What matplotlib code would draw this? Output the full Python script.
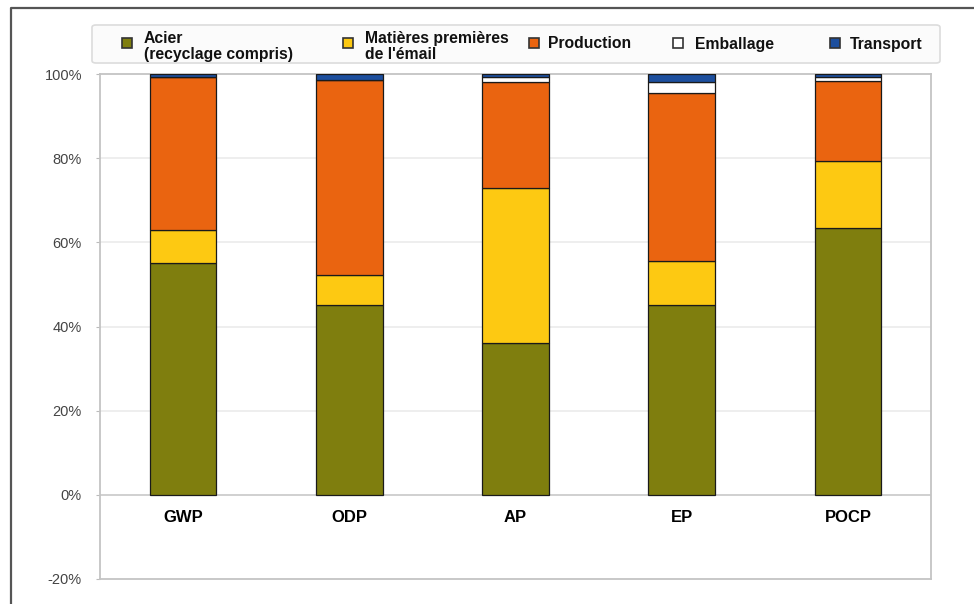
import numpy as np
import matplotlib
matplotlib.use("Agg")
import matplotlib.pyplot as plt
from matplotlib.patches import FancyBboxPatch
from matplotlib.lines import Line2D

plt.rcParams['font.family'] = ['Liberation Sans', 'DejaVu Sans']

# Share of each life-cycle stage per impact category (%)
categories = ['GWP', 'ODP', 'AP', 'EP', 'POCP']
stages = ['Acier\n(recyclage compris)', "Matières premières\nde l'émail",
          'Production', 'Emballage', 'Transport']
acier = [55.0, 45.0, 36.0, 45.0, 63.4]
matieres = [7.9, 7.3, 37.0, 10.6, 15.9]
production = [36.3, 46.2, 25.2, 40.0, 19.1]
emballage = [0.1, 0.1, 1.0, 2.6, 1.0]
transport = [0.7, 1.4, 0.8, 1.8, 0.6]
yticks = [-20, 0, 20, 40, 60, 80, 100]

series = [acier, matieres, production, emballage, transport]
colors = ['#7f7e0e', '#fdc912', '#ea6410', '#ffffff', '#1d4f9e']

W, H = 974, 604
fig = plt.figure(figsize=(W / 100, H / 100), dpi=100)
ax = fig.add_axes([100 / W, 1 - 579 / H, 831 / W, 505 / H])

x = np.arange(len(categories))
bottom = np.zeros(len(categories))
for vals, col in zip(series, colors):
    vals = np.array(vals)
    ax.bar(x, vals, width=0.4, bottom=bottom, color=col,
           edgecolor='#1a1a1a', linewidth=0.9, zorder=3)
    bottom += vals

ax.set_xlim(-0.5, len(categories) - 0.5)
ax.set_ylim(-20, 100)
ax.set_yticks(yticks)
ax.set_yticklabels([f'{v}%' for v in yticks], fontsize=10.5, color='#444444')
ax.tick_params(axis='y', length=3, color='#bbbbbb', pad=10)
ax.set_xticks([])

# light horizontal grid, zero line a bit stronger
for v in yticks[1:-1]:
    ax.axhline(v, color='#c8c8c8' if v == 0 else '#ebebeb', lw=1.2, zorder=1)
for s in ax.spines.values():
    s.set_color('#c4c4c4')
    s.set_linewidth(1.3)

# category names sit just under the 0% line
for xi, name in zip(x, categories):
    ax.annotate(name, (xi, 0), xytext=(0, -11), textcoords='offset points',
                ha='center', va='top', fontsize=12, fontweight='bold')

# legend box across the top
fig.patches.append(FancyBboxPatch((92 / W, 1 - 63 / H), 848 / W, 38 / H,
                                  boxstyle='round,pad=0,rounding_size=0.004',
                                  transform=fig.transFigure, facecolor='#fbfbfb',
                                  edgecolor='#dcdcdc', lw=1.2))
marker_x = [127, 348, 534, 678, 835]
text_x = [144, 365, 548, 695, 850]
text_y = [46.5, 46.5, 44, 44, 44]
for mx, tx, ty, lab, col in zip(marker_x, text_x, text_y, stages, colors):
    fig.add_artist(Line2D([mx / W], [1 - 43 / H], marker='s', markersize=7,
                          markerfacecolor=col, markeredgecolor='#333333',
                          markeredgewidth=1.2, transform=fig.transFigure))
    fig.text(tx / W, 1 - ty / H, lab, ha='left', va='center', fontsize=11.3,
             fontweight='bold', linespacing=1.1, color='#111111')

# outer frame (left and top edges)
fig.add_artist(Line2D([11 / W, 11 / W, 973 / W], [0, 1 - 8 / H, 1 - 8 / H],
                      color='#555555', lw=1.6, transform=fig.transFigure))

fig.savefig('out.png', dpi=100)
